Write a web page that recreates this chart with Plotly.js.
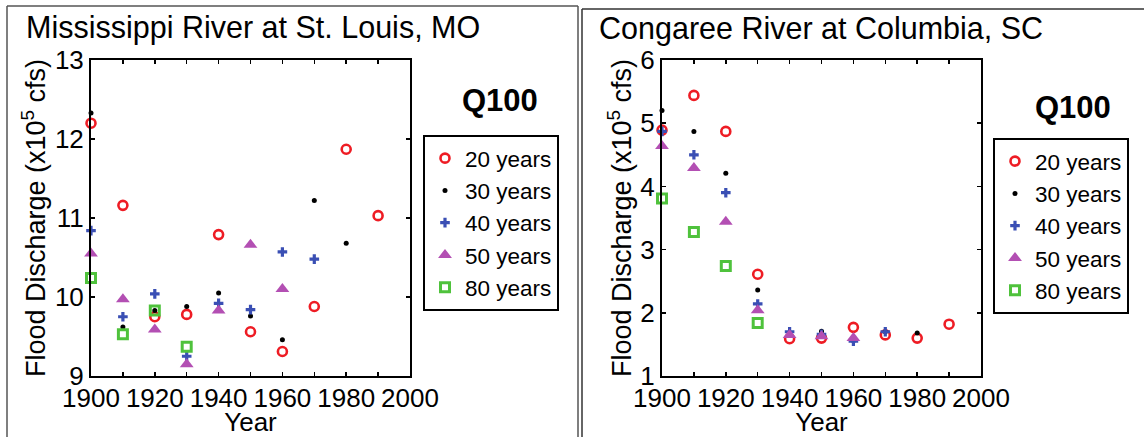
<!DOCTYPE html>
<html>
<head>
<meta charset="utf-8">
<script src="https://cdn.plot.ly/plotly-3.0.1.min.js"></script>
<style>html,body{margin:0;padding:0;background:#fff;}#chart{width:1144px;height:437px;}</style>
</head>
<body>
<div id="chart"></div>
<script>
// ---- data ----
const years20 = [1900,1910,1920,1930,1940,1950,1960,1970,1980,1990];
const years30 = [1900,1910,1920,1930,1940,1950,1960,1970,1980];
const years40 = [1900,1910,1920,1930,1940,1950,1960,1970];
const years50 = [1900,1910,1920,1930,1940,1950,1960];
const years80 = [1900,1910,1920,1930];
const seriesNames = ["20 years","30 years","40 years","50 years","80 years"];

// Mississippi River at St. Louis, MO (x10^5 cfs)
const miss20 = [12.20,11.16,9.75,9.78,10.79,9.56,9.31,9.88,11.87,11.03];
const miss30 = [12.33,9.62,9.83,9.88,10.05,9.76,9.46,11.22,10.68];
const miss40 = [10.84,9.75,10.04,9.25,9.92,9.84,10.57,10.48];
const miss50 = [10.55,9.97,9.59,9.15,9.83,10.66,10.10];
const miss80 = [10.24,9.53,9.83,9.37];

// Congaree River at Columbia, SC (x10^5 cfs)
const cong20 = [4.89,5.44,4.87,2.61,1.59,1.60,1.77,1.65,1.60,1.82];
const cong30 = [5.20,4.87,4.21,2.36,1.66,1.71,1.56,1.70,1.68];
const cong40 = [4.87,4.50,3.90,2.14,1.70,1.66,1.55,1.70];
const cong50 = [4.64,4.29,3.44,2.04,1.65,1.63,1.60];
const cong80 = [3.81,3.28,2.74,1.84];

const xTickVals = [1900,1920,1940,1960,1980,2000];
const xTickText = ["1900","1920","1940","1960","1980","2000"];

// ---- styling ----
const FONT = "Arial, 'Liberation Sans', sans-serif";
const W = 1144, H = 437;
const px = v => v / W;
const py = v => 1 - v / H;

const markerStyles = [
  {symbol:"circle-open", size:9, color:"#ee1c24", line:{width:2.6, color:"#ee1c24"}},
  {symbol:"circle", size:5, color:"#000000"},
  {symbol:"cross", size:8, color:"#3a4fb4", line:{width:0}},
  {symbol:"triangle-up", size:12, color:"#b34fb3", line:{width:0}},
  {symbol:"square-open", size:9, color:"#4fc23c", line:{width:3, color:"#4fc23c"}}
];

function makeTraces(yearsList, valuesList, xa, ya, legendId) {
  return valuesList.map((vals, i) => ({
    type: "scatter", mode: "markers",
    x: yearsList[i], y: vals,
    name: seriesNames[i],
    xaxis: xa, yaxis: ya,
    legend: legendId,
    cliponaxis: false,
    marker: markerStyles[i]
  }));
}

const yearsList = [years20, years30, years40, years50, years80];
const traces = [
  ...makeTraces(yearsList, [miss20, miss30, miss40, miss50, miss80], "x", "y", "legend"),
  ...makeTraces(yearsList, [cong20, cong30, cong40, cong50, cong80], "x2", "y2", "legend2")
];

const axisCommon = {
  showline: true, linecolor: "#000", linewidth: 2, mirror: "ticks",
  ticks: "inside", ticklen: 4, tickwidth: 1.5, tickcolor: "#000",
  showgrid: false, zeroline: false,
  tickfont: {family: FONT, size: 26, color: "#000"}
};

function xAxis(domain) {
  return Object.assign({}, axisCommon, {
    domain: domain, range: [1900, 2000], tickmode: "array",
    tickvals: xTickVals, ticktext: xTickText,
    minor: {dtick: 10, tick0: 1900, ticks: "inside", ticklen: 4, tickwidth: 1.5, tickcolor: "#000"},
    title: {text: "Year", font: {family: FONT, size: 26, color: "#000"}, standoff: 0},
    ticklabelstandoff: -2
  });
}
function yAxis(domain, range, anchor) {
  return Object.assign({}, axisCommon, {
    domain: domain, range: range, dtick: 1, anchor: anchor,
    title: {text: "Flood Discharge (x10<sup>5</sup> cfs)", font: {family: FONT, size: 27, color: "#000"}, standoff: 1}
  });
}

const yDom = [py(376), py(60)];
const legendCommon = {
  xanchor: "left", yanchor: "top",
  bordercolor: "#000", borderwidth: 2, bgcolor: "#fff",
  font: {family: FONT, size: 22.5, color: "#000"}, itemwidth: 30, tracegroupgap: 0
};
const layout = {
  width: W, height: H,
  margin: {l: 0, r: 0, t: 0, b: 0},
  paper_bgcolor: "#fff", plot_bgcolor: "#fff",
  font: {family: FONT, color: "#000"},
  showlegend: true,
  xaxis: Object.assign(xAxis([px(91), px(410)]), {anchor: "y"}),
  yaxis: yAxis(yDom, [9, 13], "x"),
  xaxis2: Object.assign(xAxis([px(662), px(981)]), {anchor: "y2"}),
  yaxis2: yAxis(yDom, [1, 6], "x2"),
  legend: Object.assign({x: px(423), y: py(135)}, legendCommon),
  legend2: Object.assign({x: px(993), y: py(138)}, legendCommon),
  annotations: [
    {xref: "paper", yref: "paper", x: px(24), y: py(27), xanchor: "left", yanchor: "middle",
     text: "Mississippi River at St. Louis, MO", showarrow: false, font: {family: FONT, size: 30.5, color: "#000"}},
    {xref: "paper", yref: "paper", x: px(597), y: py(28), xanchor: "left", yanchor: "middle",
     text: "Congaree River at Columbia, SC", showarrow: false, font: {family: FONT, size: 30.5, color: "#000"}},
    {xref: "paper", yref: "paper", x: px(500), y: py(100), xanchor: "center", yanchor: "middle",
     text: "<b>Q100</b>", showarrow: false, font: {family: FONT, size: 31, color: "#000"}},
    {xref: "paper", yref: "paper", x: px(1073), y: py(108), xanchor: "center", yanchor: "middle",
     text: "<b>Q100</b>", showarrow: false, font: {family: FONT, size: 31, color: "#000"}}
  ],
  shapes: [
    {type: "line", xref: "paper", yref: "paper", x0: px(7), x1: px(7), y0: py(6), y1: 0, line: {color: "#555", width: 1.5}},
    {type: "line", xref: "paper", yref: "paper", x0: px(7), x1: px(578), y0: py(6), y1: py(6), line: {color: "#555", width: 1.5}},
    {type: "line", xref: "paper", yref: "paper", x0: px(578), x1: px(578), y0: py(6), y1: 0, line: {color: "#555", width: 1.5}},
    {type: "line", xref: "paper", yref: "paper", x0: px(582), x1: px(582), y0: py(9), y1: 0, line: {color: "#333", width: 1.5}},
    {type: "line", xref: "paper", yref: "paper", x0: px(582), x1: 1, y0: py(9), y1: py(9), line: {color: "#333", width: 1.5}}
  ]
};

Plotly.newPlot("chart", traces, layout, {displayModeBar: false, staticPlot: true});
</script>
</body>
</html>
